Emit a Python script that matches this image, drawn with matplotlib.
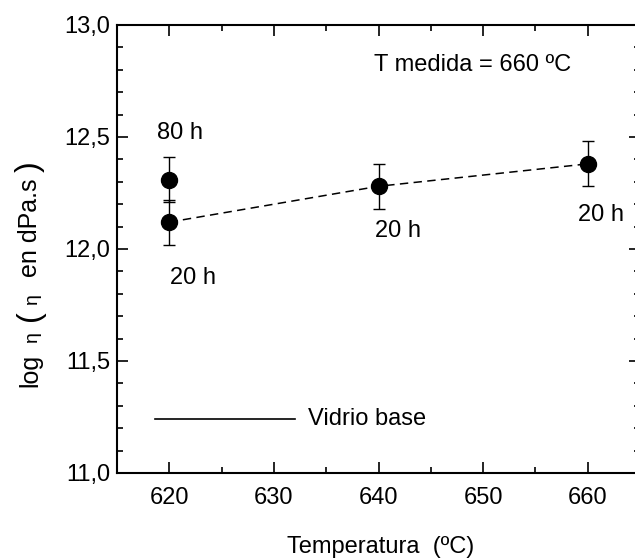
import matplotlib
matplotlib.use("Agg")
import matplotlib.pyplot as plt
from matplotlib.ticker import MultipleLocator, FuncFormatter

plt.rcParams['font.family'] = ['Liberation Sans', 'DejaVu Sans']

# Viscosity measured at 660 ºC for glasses treated at several temperatures
temp_20h = [620, 640, 660]
logeta_20h = [12.12, 12.28, 12.38]
err_20h = [0.10, 0.10, 0.10]

temp_80h = [620]
logeta_80h = [12.31]
err_80h = [0.10]

# Base glass reference level
base_x = [618.6, 632.0]
base_y = [11.24, 11.24]

W, H = 635, 560
fig = plt.figure(figsize=(W / 100, H / 100), dpi=100)
ax = fig.add_axes([117 / W, 1 - 473 / H, 523 / W, 448 / H])

ax.plot(temp_20h, logeta_20h, ls=(0, (5.5, 3.5)), color='black', lw=1.1, zorder=2)
ax.errorbar(temp_20h, logeta_20h, yerr=err_20h, fmt='o', color='black',
            ms=11.5, capsize=4, elinewidth=1.0, capthick=1.0, zorder=3)
ax.errorbar(temp_80h, logeta_80h, yerr=err_80h, fmt='o', color='black',
            ms=11.5, capsize=4, elinewidth=1.0, capthick=1.0, zorder=3)
ax.plot(base_x, base_y, color='black', lw=1.2)

fs = 17
ax.text(633.3, 11.24, 'Vidrio base', fontsize=fs, va='center', ha='left')
ax.text(621.0, 12.52, '80 h', fontsize=fs, ha='center', va='center')
ax.text(622.3, 11.87, '20 h', fontsize=fs, ha='center', va='center')
ax.text(641.9, 12.08, '20 h', fontsize=fs, ha='center', va='center')
ax.text(661.3, 12.15, '20 h', fontsize=fs, ha='center', va='center')
ax.text(649.0, 12.82, 'T medida = 660 ºC', fontsize=fs, ha='center', va='center')

ax.set_xlim(615, 665)
ax.set_ylim(11.0, 13.0)
ax.xaxis.set_major_locator(MultipleLocator(10))
ax.xaxis.set_minor_locator(MultipleLocator(5))
ax.yaxis.set_major_locator(MultipleLocator(0.5))
ax.yaxis.set_minor_locator(MultipleLocator(0.1))
ax.yaxis.set_major_formatter(FuncFormatter(lambda v, p: f'{v:.1f}'.replace('.', ',')))

ax.tick_params(which='both', direction='in', top=True, right=True, width=1.2, labelsize=fs)
ax.tick_params(which='major', length=8)
ax.tick_params(which='minor', length=4.5)
ax.tick_params(axis='x', pad=10)
ax.tick_params(axis='y', pad=5)
for s in ax.spines.values():
    s.set_linewidth(1.5)

fig.text(381 / W, 1 - 547 / H, 'Temperatura  (ºC)', fontsize=fs, ha='center', va='center')

# Vertical axis title built from pieces: small eta, large parentheses
base_xpx = 37
pieces = [
    # text, centre y (px from top), font size, vertical alignment, x anchor (px)
    ('log', 370, 18, 'baseline', base_xpx),
    ('η', 337, 14, 'baseline', base_xpx),
    ('(', 316, 23, 'center', 30),
    ('η', 299, 14, 'baseline', base_xpx),
    ('en dPa.s', 228, 18, 'baseline', base_xpx),
    (')', 167, 23, 'center', 30),
]
for txt, ypx, size, va, xpx in pieces:
    fig.text(xpx / W, 1 - ypx / H, txt, fontsize=size, rotation=90,
             rotation_mode='anchor', ha='center', va=va)

fig.savefig('out.png', dpi=100)
